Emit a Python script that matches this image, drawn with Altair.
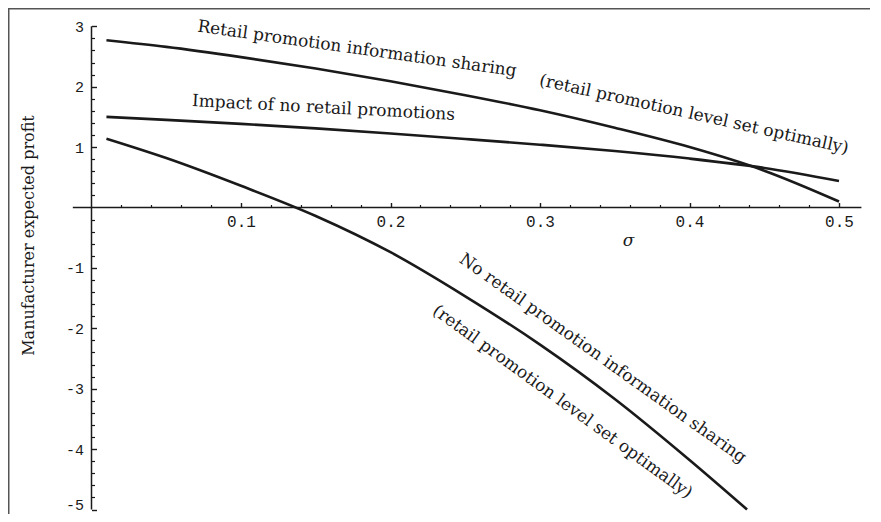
import altair as alt
import pandas as pd

# ---------------- data ----------------
sigma_share = [0.01, 0.05, 0.10, 0.15, 0.20, 0.25, 0.30, 0.35, 0.40, 0.45, 0.50]
profit_share = [2.77, 2.66, 2.49, 2.30, 2.09, 1.86, 1.61, 1.32, 1.00, 0.61, 0.10]

sigma_nopromo = [0.01, 0.05, 0.10, 0.15, 0.20, 0.25, 0.30, 0.35, 0.40, 0.45, 0.50]
profit_nopromo = [1.50, 1.45, 1.385, 1.31, 1.225, 1.135, 1.04, 0.935, 0.81, 0.655, 0.44]

sigma_noshare = [0.01, 0.05, 0.10, 0.15, 0.20, 0.25, 0.30, 0.35, 0.40, 0.4385]
profit_noshare = [1.14, 0.82, 0.36, -0.14, -0.74, -1.47, -2.27, -3.17, -4.18, -5.0]

x_major = [0.1, 0.2, 0.3, 0.4, 0.5]
x_minor = [0.02, 0.04, 0.06, 0.08, 0.12, 0.14, 0.16, 0.18, 0.22, 0.24, 0.26, 0.28,
           0.32, 0.34, 0.36, 0.38, 0.42, 0.44, 0.46, 0.48]
y_major = [-5, -4, -3, -2, -1, 1, 2, 3]
y_minor = [-4.8, -4.6, -4.4, -4.2, -3.8, -3.6, -3.4, -3.2, -2.8, -2.6, -2.4, -2.2,
           -1.8, -1.6, -1.4, -1.2, -0.8, -0.6, -0.4, -0.2, 0.2, 0.4, 0.6, 0.8,
           1.2, 1.4, 1.6, 1.8, 2.2, 2.4, 2.6, 2.8]

label_text = ["Retail promotion information sharing",
              "(retail promotion level set optimally)",
              "Impact of no retail promotions",
              "No retail promotion information sharing",
              "(retail promotion level set optimally)"]
label_sigma = [0.1776, 0.403, 0.1552, 0.342, 0.315]
label_profit = [2.624, 1.54, 1.647, -2.50, -3.22]
label_angle = [8, 12.5, 3, 35.5, 36]

# axis extents
x_axis_from, x_axis_to = -0.0125, 0.515
y_axis_from, y_axis_to = -5, 3

# ---------------- layout ----------------
W, H = 862, 506
PX_X = 1495.0      # pixels per unit sigma
PX_Y = 60.4        # pixels per unit profit
ORIGIN_X = 83.5    # plot-area pixel of sigma = 0
ORIGIN_Y = 199.5   # plot-area pixel of profit = 0

smin = -ORIGIN_X / PX_X
smax = smin + W / PX_X
vmax = ORIGIN_Y / PX_Y
vmin = vmax - H / PX_Y

xs = alt.Scale(domain=[smin, smax], nice=False, zero=False)
ys = alt.Scale(domain=[vmin, vmax], nice=False, zero=False)

INK = "#1a1a1a"
FRAME = "#555555"

rows = []
for s, v in zip(sigma_share, profit_share):
    rows.append({"series": "share", "sigma": s, "profit": v})
for s, v in zip(sigma_nopromo, profit_nopromo):
    rows.append({"series": "nopromo", "sigma": s, "profit": v})
for s, v in zip(sigma_noshare, profit_noshare):
    rows.append({"series": "noshare", "sigma": s, "profit": v})
df = pd.DataFrame(rows)

major_x_axis = alt.Axis(
    orient="top", offset=-ORIGIN_Y, values=x_major, domain=False, grid=False,
    tickSize=5, tickWidth=1.4, tickColor=INK,
    labelExpr="'' + datum.value", labelFont="Liberation Mono", labelFontSize=16,
    labelColor=INK, labelPadding=-11, labelBaseline="top", labelAlign="center",
    labelFlush=False, labelOverlap=False,
    title="σ", titleFont="DejaVu Serif", titleFontStyle="italic", titleFontSize=17,
    titleFontWeight="normal", titleColor=INK, titleX=620, titleY=33,
    titleAlign="center", titleBaseline="middle", titleAngle=0,
)
major_y_axis = alt.Axis(
    orient="right", offset=ORIGIN_X - W, values=y_major, domain=False, grid=False,
    tickSize=5, tickWidth=1.4, tickColor=INK,
    labelExpr="'' + datum.value", labelFont="Liberation Mono", labelFontSize=15,
    labelColor=INK, labelPadding=-13, labelAlign="right", labelBaseline="middle",
    labelOffset={"condition": {"test": "datum.value == -5", "value": -5}, "value": 0},
    labelFlush=False, labelOverlap=False,
    title="Manufacturer expected profit", titleFont="DejaVu Serif", titleFontSize=16,
    titleFontWeight="normal", titleColor=INK, titleX=-63.5, titleY=227,
    titleAngle=270, titleAlign="center", titleBaseline="middle",
)
minor_x_axis = alt.Axis(
    orient="top", offset=-ORIGIN_Y, values=x_minor, domain=False, grid=False,
    tickSize=3, tickWidth=1.2, tickColor=INK, labels=False, title=None,
)
minor_y_axis = alt.Axis(
    orient="right", offset=ORIGIN_X - W, values=y_minor, domain=False, grid=False,
    tickSize=3, tickWidth=1.2, tickColor=INK, labels=False, title=None,
)

curves = alt.Chart(df).mark_line(color=INK, strokeWidth=2.6, interpolate="monotone").encode(
    x=alt.X("sigma:Q", scale=xs, axis=major_x_axis),
    y=alt.Y("profit:Q", scale=ys, axis=major_y_axis),
    detail="series:N",
)

xline = alt.Chart(pd.DataFrame({"a": [x_axis_from], "b": [x_axis_to], "y": [0]})).mark_rule(
    color=INK, strokeWidth=1.5).encode(
    x=alt.X("a:Q", scale=xs, axis=minor_x_axis), x2="b:Q",
    y=alt.Y("y:Q", scale=ys, axis=minor_y_axis),
)
yline = alt.Chart(pd.DataFrame({"x": [0], "a": [y_axis_from], "b": [y_axis_to]})).mark_rule(
    color=INK, strokeWidth=1.5).encode(
    x=alt.X("x:Q", scale=xs, axis=None),
    y=alt.Y("a:Q", scale=ys, axis=None), y2="b:Q",
)

frame_top = alt.Chart(pd.DataFrame({"a": [smin], "b": [smax], "y": [vmax]})).mark_rule(
    color=FRAME, strokeWidth=3).encode(
    x=alt.X("a:Q", scale=xs, axis=None), x2="b:Q",
    y=alt.Y("y:Q", scale=ys, axis=None),
)
frame_left = alt.Chart(pd.DataFrame({"x": [smin], "a": [vmin], "b": [vmax]})).mark_rule(
    color=FRAME, strokeWidth=3).encode(
    x=alt.X("x:Q", scale=xs, axis=None),
    y=alt.Y("a:Q", scale=ys, axis=None), y2="b:Q",
)

labels_df = pd.DataFrame({"text": label_text, "sigma": label_sigma,
                          "profit": label_profit, "angle": label_angle})
labels = alt.Chart(labels_df).mark_text(
    font="DejaVu Serif", fontSize=17, color=INK, align="center", baseline="middle").encode(
    x=alt.X("sigma:Q", scale=xs, axis=None),
    y=alt.Y("profit:Q", scale=ys, axis=None),
    text="text:N",
    angle=alt.Angle("angle:Q", scale=None),
)

chart = alt.layer(frame_top, frame_left, xline, yline, curves, labels).resolve_axis(
    x="independent", y="independent"
).properties(
    width=W, height=H, padding=0,
    autosize=alt.AutoSizeParams(type="none"),
    background="#ffffff",
).configure_view(stroke="transparent", strokeWidth=0)

chart.save("out.html", embed_options={"renderer": "svg", "actions": False})
